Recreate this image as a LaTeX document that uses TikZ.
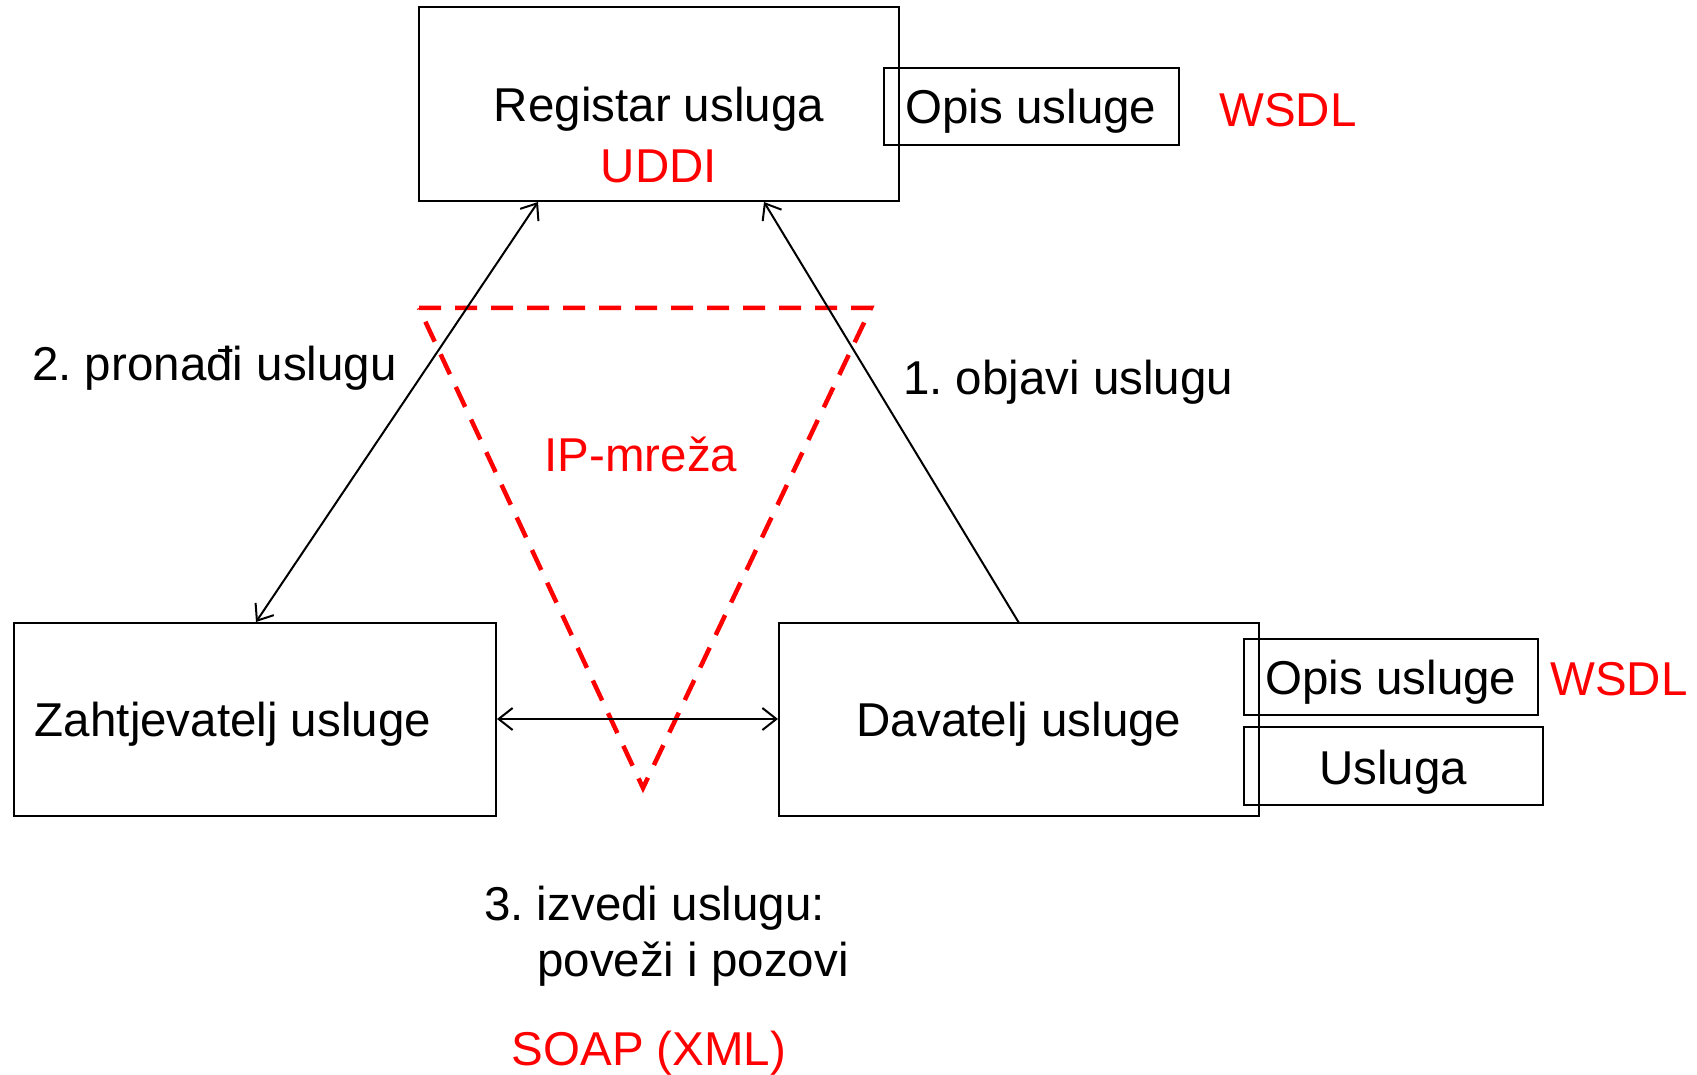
\documentclass[tikz,border=0pt]{standalone}
\usepackage{fontspec}
\setmainfont{Liberation Sans}
\usetikzlibrary{arrows.meta}
\begin{document}
\frenchspacing
\begin{tikzpicture}[x=1pt,y=-1pt,
  every node/.style={inner sep=0pt,font=\fontsize{47.5}{56}\selectfont},
  box/.style={draw,line width=2pt},
  lbl/.style={anchor=west},
  redtxt/.style={text=red},
  conn/.style={line width=2pt,>={Straight Barb[length=14pt,width=22pt]}},
]
\useasboundingbox (0,0) rectangle (1697,1075);
% boxes
\node[box,minimum width=480pt,minimum height=194pt] (reg) at (659,104) {};
\node (regt) at (659,109) {Registar usluga};
\node[redtxt] (uddi) at (659,166) {UDDI};
\node[box,minimum width=295pt,minimum height=77pt] (opis1) at (1031.5,106.5) {};
\node (opis1t) at (1031,111) {Opis usluge};
\node[redtxt] (wsdl1) at (1288,110) {WSDL};

\node[box,minimum width=482pt,minimum height=193pt] (zah) at (255,719.5) {};
\node (zaht) at (233,724) {Zahtjevatelj usluge};

\node[box,minimum width=480pt,minimum height=193pt] (dav) at (1019,719.5) {};
\node (davt) at (1019,724) {Davatelj usluge};
\node[box,minimum width=294pt,minimum height=76pt] (opis2) at (1391,677) {};
\node (opis2t) at (1391,682) {Opis usluge};
\node[redtxt] (wsdl2) at (1619,679) {WSDL};
\node[box,minimum width=299pt,minimum height=78pt] (usl) at (1393.5,766) {};
\node (uslt) at (1393,772) {Usluga};

% red dashed triangle
\coordinate (t1) at (419,308);
\coordinate (t2) at (871,308);
\coordinate (t3) at (643,788);
\draw[draw=red,line width=4.5pt,dash pattern=on 22pt off 14pt] (t1) -- (t2) -- (t3) -- cycle;
\node[redtxt] (ip) at (641,454) {IP-mreža};

% connectors
\coordinate (zt) at (256,622);
\coordinate (rb1) at (538,202);
\coordinate (dt) at (1019,623);
\coordinate (rb2) at (764,202);
\draw[conn,<->] (zt) -- (rb1);
\draw[conn,->] (dt) -- (rb2);
\draw[conn,<->] (zah.east |- 0,719) -- (dav.west |- 0,719);

% labels
\node[lbl] (l2) at (32,368) {2. pronađi uslugu};
\node[lbl] (l1) at (903,382) {1. objavi uslugu};
\node[lbl] (l3a) at (484,908) {3. izvedi uslugu:};
\node[lbl] (l3b) at (537,964) {poveži i pozovi};
\node[redtxt] (soap) at (649,1053) {SOAP (XML)};
\end{tikzpicture}
\end{document}
